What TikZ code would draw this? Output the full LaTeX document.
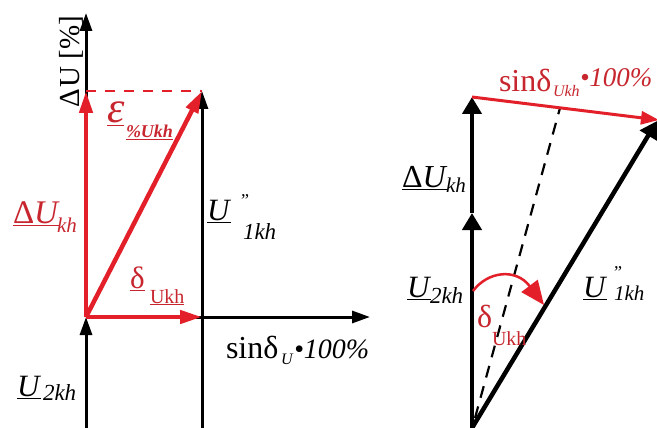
\documentclass[tikz,border=0pt]{standalone}
\usepackage{fontspec}
\setmainfont{Liberation Serif}
\usetikzlibrary{arrows.meta}
\definecolor{lred}{HTML}{E3202A}
\definecolor{tred}{HTML}{C8262E}
\newcommand{\fs}[1]{\fontsize{#1}{#1}\selectfont}
\begin{document}
\begin{tikzpicture}[x=1pt,y=-1pt,
  lbl/.style={anchor=base west,inner sep=0pt,outer sep=0pt},
  bvec/.style={line width=3pt,draw=black,-{Triangle[length=18pt,width=12pt]}},
  rvec/.style={line width=4.5pt,draw=lred,-{Triangle[length=22pt,width=13pt]}},
  rdash/.style={line width=2.5pt,draw=lred,dash pattern=on 10pt off 9pt},
  bvecR/.style={line width=4.5pt,draw=black,-{Triangle[length=17pt,width=19pt]}},
  rvecR/.style={line width=3pt,draw=lred,-{Triangle[length=18pt,width=13pt]}},
  bdash/.style={line width=2.2pt,draw=black,dash pattern=on 12pt off 9pt},
  rarc/.style={line width=2.5pt,draw=lred,-{Triangle[length=24pt,width=20pt]}}
]
\useasboundingbox[fill=white] (0,0) rectangle (657,428);

% ---------- left diagram ----------
\coordinate (O) at (86,317);
\coordinate (Lbot) at (86,430);
\coordinate (Ltop) at (86,13);
\coordinate (Xend) at (370,317);
\coordinate (Vbot) at (202,430);
\coordinate (Vtop) at (202,91);
\coordinate (Dtop) at (86,91);
\coordinate (Dx) at (202,317);

\draw[bvec] (Lbot) -- (O);
\draw[bvec] (O) -- (Ltop);
\draw[bvec] (O) -- (Xend);
\draw[bvec] (Vbot) -- (Vtop);
\draw[rdash] (Dtop) -- (Vtop);
\draw[rvec] (O) -- (Dtop);
\draw[rvec] (O) -- (Dx);
\draw[rvec] (O) -- (Vtop);

\node[lbl,rotate=90] (axlbl) at (79,107) {\fs{29}Δ\kern1ptU [\%]};
\node[lbl,text=tred] (eps) at (107,123) {\fs{44}\underline{\textit{ε}}};
\node[lbl,text=tred] (epsub) at (126,138) {\fs{18}\bfseries\itshape\underline{\%Ukh}};
\node[lbl,text=tred] (dUL) at (13,223) {\fs{33}\underline{Δ\textit{U}}};
\node[lbl,text=tred] (dULs) at (57,233) {\fs{21}\textit{kh}};
\node[lbl] (U1L) at (207,220) {\fs{31}\underline{\textit{U}}};
\node[lbl] (U1Lq) at (241,207) {\fs{18}”};
\node[lbl] (U1Ls) at (243,240) {\fs{23}\textit{1kh}};
\node[lbl,text=tred] (dlL) at (130,288) {\fs{31}\underline{δ}};
\node[lbl,text=tred] (dlLs) at (150,303) {\fs{20}\underline{Ukh}};
\node[lbl] (sinL) at (226,358) {\fs{32}sinδ};
\node[lbl] (sinLs) at (281,364) {\fs{16}\textit{U}};
\node[lbl] (sinLp) at (294,358) {\fs{28}\textit{•100\%}};
\node[lbl] (U2L) at (17,396) {\fs{31}\underline{\textit{U}}};
\node[lbl] (U2Ls) at (43,400) {\fs{23}\textit{2kh}};

% ---------- right diagram ----------
\coordinate (B) at (472,428);
\coordinate (C) at (472,213);
\coordinate (D) at (472,97);
\coordinate (E) at (659,120);
\coordinate (Eb) at (657,121);
\coordinate (Fb) at (475,418);
\coordinate (Ft) at (560,108);
\coordinate (A1) at (473,291);
\coordinate (A2) at (544,305);

\draw[bdash] (Fb) -- (Ft);
\draw[bvecR] (B) -- (C);
\draw[bvecR] (C) -- (D);
\draw[bvecR] (B) -- (Eb);
\draw[rvecR] (D) -- (E);
\draw[rarc] (A1) .. controls (488,271) and (516,268) .. (A2);

\node[lbl,text=tred] (sinR) at (499,92) {\fs{32}sinδ};
\node[lbl,text=tred] (sinRs) at (553,97) {\fs{16}\textit{Ukh}};
\node[lbl,text=tred] (sinRp) at (580,87) {\fs{27}\textit{•100\%}};
\node[lbl] (dUR) at (402,187) {\fs{32}\underline{Δ\textit{U}}};
\node[lbl] (dURs) at (446,193) {\fs{21}\textit{kh}};
\node[lbl] (U2R) at (407,297) {\fs{31}\underline{\textit{U}}};
\node[lbl] (U2Rs) at (430,303) {\fs{23}\textit{2kh}};
\node[lbl] (U1R) at (583,297) {\fs{31}\underline{\textit{U}}};
\node[lbl] (U1Rq) at (614,278) {\fs{18}”};
\node[lbl] (U1Rs) at (614,300) {\fs{21}\textit{1kh}};
\node[lbl,text=tred] (dlR) at (477,327) {\fs{32}δ};
\node[lbl,text=tred] (dlRs) at (492,345) {\fs{20}Ukh};
\end{tikzpicture}
\end{document}
